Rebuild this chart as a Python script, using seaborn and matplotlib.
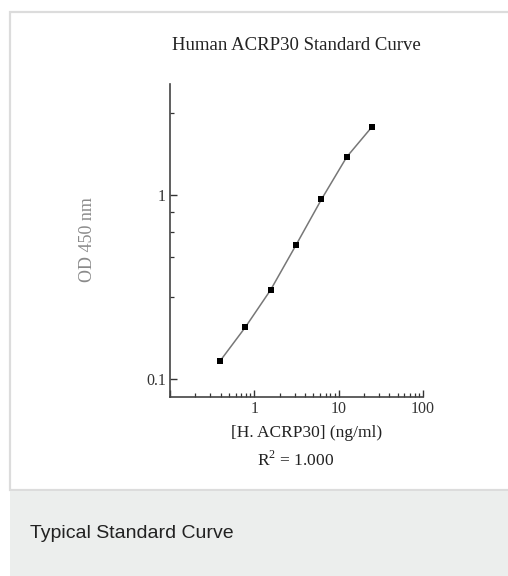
import pandas as pd
import matplotlib.pyplot as plt
from matplotlib.patches import Rectangle
from matplotlib.ticker import FixedLocator, NullFormatter

import seaborn as sns

# standard curve data
conc = [0.39, 0.78, 1.56, 3.125, 6.25, 12.5, 25]
od = [0.125, 0.191, 0.305, 0.535, 0.946, 1.61, 2.35]

x_major = [0.1, 1, 10, 100]
x_labels = ["", "1", "10", "100"]
y_major = [0.1, 1]
y_labels = ["0.1", "1"]
y_minor = [0.28, 0.46, 0.63, 0.81, 2.8]

sns.set_style("ticks")
plt.rcParams['font.family'] = ['Liberation Serif', 'DejaVu Serif']
plt.rcParams['mathtext.fontset'] = 'custom'
plt.rcParams['mathtext.rm'] = 'Liberation Serif'

fig = plt.figure(figsize=(5.08, 5.76), dpi=100)
fig.patch.set_facecolor("white")

W, H = 508, 576
# card and caption panel
fig.patches.append(Rectangle((10 / W, (H - 490) / H), 1, 478 / H, transform=fig.transFigure,
                             facecolor="white", edgecolor="#dcdcdc", linewidth=1.6, zorder=0))
fig.patches.append(Rectangle((10 / W, 0), 1, (H - 491) / H, transform=fig.transFigure,
                             facecolor="#eceeed", edgecolor="none", zorder=0))
fig.text(30 / W, 1 - 533 / H, "Typical Standard Curve", family="Liberation Sans",
         fontsize=14, color="#222222", va="center", ha="left")

ax = fig.add_axes([170 / W, 1 - 397 / H, 253 / W, 313 / H])
ax.set_facecolor("none")
ax.set_zorder(3)

dt = pd.DataFrame({"conc": conc, "od": od})
sns.lineplot(data=dt, x="conc", y="od", ax=ax, color="#777777", linewidth=1.1)
sns.scatterplot(data=dt, x="conc", y="od", ax=ax, marker="s", color="black", s=16,
                edgecolor="black", linewidth=0, zorder=3)

ax.set_xscale("log")
ax.set_yscale("log")
ax.set_xlim(0.1, 100)
ax.set_ylim(0.08, 4.0)

ax.set_xticks(x_major)
ax.set_xticklabels(x_labels)
ax.set_yticks(y_major)
ax.set_yticklabels(y_labels)
ax.yaxis.set_minor_locator(FixedLocator(y_minor))
ax.yaxis.set_minor_formatter(NullFormatter())
ax.xaxis.set_minor_formatter(NullFormatter())

ax.tick_params(which="major", direction="in", length=5, width=1, labelsize=11.5,
               color="#333333", labelcolor="#333333", pad=3)
ax.tick_params(which="minor", direction="in", length=3, width=0.9, color="#333333")
sns.despine(ax=ax)
for s in ["left", "bottom"]:
    ax.spines[s].set_linewidth(1.2)
    ax.spines[s].set_color("#444444")

ax.set_xlabel("")
ax.set_ylabel("")
fig.text(88 / W, 1 - 240 / H, "OD 450 nm", rotation=90, fontsize=13, color="#8a8a8a",
         ha="center", va="center")
fig.text(296 / W, 1 - 46 / H, "Human ACRP30 Standard Curve", fontsize=13.5, color="#222222",
         ha="center", va="center")
fig.text(307 / W, 1 - 433 / H, "[H. ACRP30] (ng/ml)", fontsize=12.5, color="#222222",
         ha="center", va="center")
fig.text(296 / W, 1 - 460 / H, r"R$^2$ = 1.000", fontsize=12.5, color="#222222",
         ha="center", va="center")

fig.savefig("out.png", dpi=100)
